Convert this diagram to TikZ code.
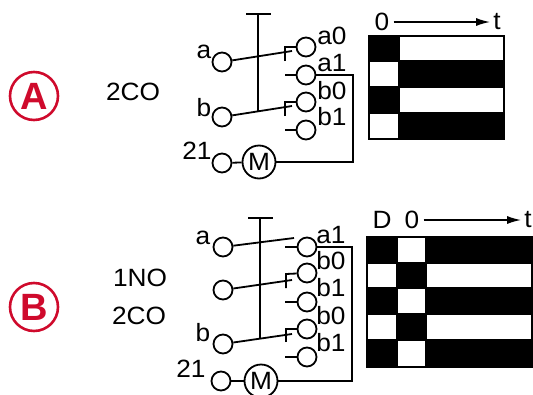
\documentclass[tikz,border=0pt]{standalone}
\usepackage{fontspec}
\setmainfont{Liberation Sans}
\newfontfamily\widefont[FakeStretch=1.05]{Liberation Sans}
\usepackage{xcolor}
\usetikzlibrary{arrows.meta}
\definecolor{badgered}{HTML}{CF0A2C}
\tikzset{
  wire/.style={line width=1.8pt},
  term/.style={draw,circle,line width=1.8pt,minimum size=19pt,inner sep=0pt},
  motor/.style={draw,circle,line width=1.8pt,minimum size=33pt,inner sep=0pt,font=\widefont\fontsize{25}{27}\selectfont},
  lab/.style={inner sep=0pt,font=\widefont\fontsize{25}{27}\selectfont},
  badge/.style={draw=badgered,circle,line width=2.6pt,minimum size=48pt,inner sep=0pt,text=badgered,font=\fontsize{38}{40}\selectfont\bfseries},
  timearrow/.style={line width=1.6pt,-{Latex[length=14pt,width=8pt]},shorten <=4pt,shorten >=3pt},
  cell/.style={draw=black,line width=1.3pt}
}
\begin{document}
\begin{tikzpicture}[x=1pt,y=-1pt]
    \useasboundingbox (0,0) rectangle (533,394);
    % badges
    \node[badge] (badgeA) at (34,96) {A};
    \node[badge] (badgeB) at (34,307) {B};
    \node[lab] (coA) at (133,92) {2CO};
    \node[lab] (noB) at (140,278) {1NO};
    \node[lab] (coB) at (139,316) {2CO};
    % switch A
    \node[term] (aA) at (222,62) {};
    \node[term] (bA) at (222,117) {};
    \node[term] (inA) at (222,163) {};
    \node[motor] (motorA) at (259,162) {M};
    \node[term] (a0A) at (306,47) {};
    \node[term] (a1A) at (306,75) {};
    \node[term] (b0A) at (306,102) {};
    \node[term] (b1A) at (306,130) {};
    \node[lab] at (204,52) {a};
    \node[lab] at (204,108) {b};
    \node[lab] at (197,151) {21};
    \node[lab] at (332,36) {a0};
    \node[lab] at (332,63) {a1};
    \node[lab] at (332,91) {b0};
    \node[lab] at (332,117) {b1};
    \coordinate (barLA) at (246,14);
    \coordinate (barRA) at (271,14);
    \coordinate (barTA) at (258,14);
    \coordinate (barBA) at (258,111);
    \coordinate (tipaA) at (292,51);
    \coordinate (tipbA) at (292,106);
    \draw[wire] (barLA) -- (barRA);
    \draw[wire] (barTA) -- (barBA);
    \draw[wire] (aA) -- (tipaA);
    \draw[wire] (bA) -- (tipbA);
    \draw[wire] (285,61) -- (285,47) -- (a0A);
    \draw[wire] (285,116) -- (285,102) -- (b0A);
    \draw[wire] (285,75) -- (a1A);
    \draw[wire] (285,130) -- (b1A);
    \draw[wire] (inA) -- (motorA);
    \draw[line width=1.6pt] (a1A) -- (353,75) |- (motorA);
    % switch B
    \node[term] (aB) at (223,247) {};
    \node[term] (cB) at (223,290) {};
    \node[term] (bB) at (223,344) {};
    \node[term] (inB) at (221,381) {};
    \node[motor] (motorB) at (261,381) {M};
    \node[term] (a1B) at (307,247) {};
    \node[term] (b0B) at (307,273) {};
    \node[term] (b1B) at (307,302) {};
    \node[term] (b2B) at (307,329) {};
    \node[term] (b3B) at (307,357) {};
    \node[lab] at (203,238) {a};
    \node[lab] at (203,333) {b};
    \node[lab] at (191,369) {21};
    \node[lab] at (331,235) {a1};
    \node[lab] at (331,261) {b0};
    \node[lab] at (331,288) {b1};
    \node[lab] at (331,316) {b0};
    \node[lab] at (331,343) {b1};
    \coordinate (barLB) at (248,218);
    \coordinate (barRB) at (273,218);
    \coordinate (barTB) at (260,218);
    \coordinate (barBB) at (260,338);
    \coordinate (tipaB) at (294,238);
    \coordinate (tipcB) at (292,280);
    \coordinate (tipbB) at (292,334);
    \draw[wire] (barLB) -- (barRB);
    \draw[wire] (barTB) -- (barBB);
    \draw[wire] (aB) -- (tipaB);
    \draw[wire] (cB) -- (tipcB);
    \draw[wire] (bB) -- (tipbB);
    \draw[wire] (286,288) -- (286,274) -- (b0B);
    \draw[wire] (286,342) -- (286,329) -- (b2B);
    \draw[wire] (285,247) -- (a1B);
    \draw[wire] (285,302) -- (b1B);
    \draw[wire] (285,357) -- (b3B);
    \draw[wire] (inB) -- (motorB);
    \draw[line width=1.6pt] (a1B) -- (352,247) |- (motorB);
    % chart A
    \node[lab] (zeroA) at (382,22) {0};
    \node[lab] (endA) at (497,22) {t};
    \draw[timearrow] (zeroA) -- (endA);
    \foreach \yt/\yb/\fa/\fb in {36/61/black/white,61/87/white/black,87/113/black/white,113/139/white/black}{
      \draw[cell,fill=\fa] (369,\yt) rectangle (399,\yb);
      \draw[cell,fill=\fb] (399,\yt) rectangle (504,\yb);
    }
    % chart B
    \node[lab] (delayB) at (382,220) {D};
    \node[lab] (zeroB) at (412,220) {0};
    \node[lab] (endB) at (528,220) {t};
    \draw[timearrow] (zeroB) -- (endB);
    \foreach \yt/\yb/\fa/\fb/\fc in {237/263/black/white/black,263/288/white/black/white,288/314/black/white/black,314/340/white/black/white,340/367/black/white/black}{
      \draw[cell,fill=\fa] (367,\yt) rectangle (397,\yb);
      \draw[cell,fill=\fb] (397,\yt) rectangle (426,\yb);
      \draw[cell,fill=\fc] (426,\yt) rectangle (532,\yb);
    }
\end{tikzpicture}
\end{document}
